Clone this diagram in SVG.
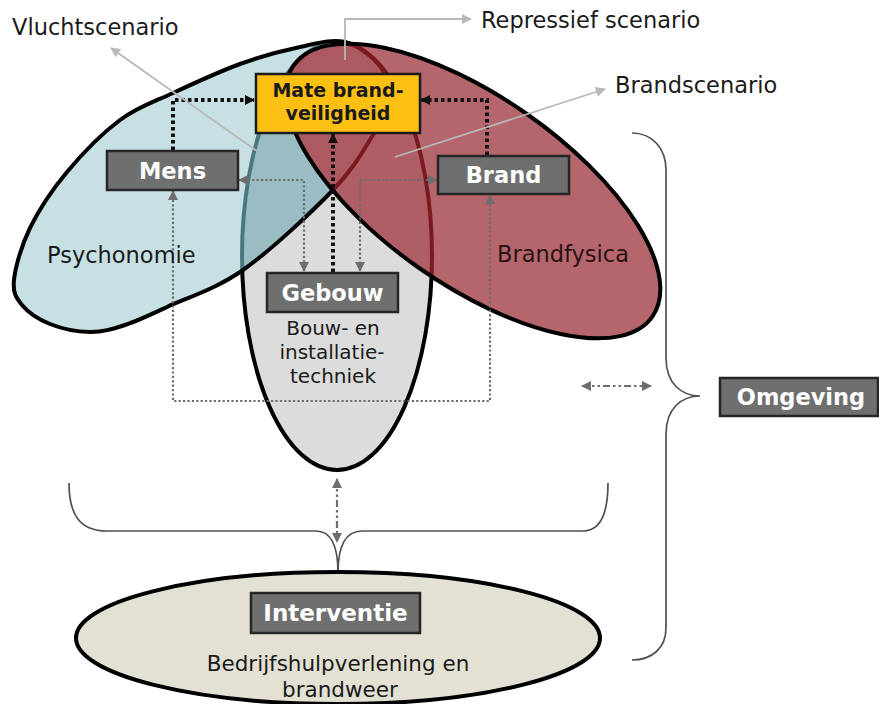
<svg xmlns="http://www.w3.org/2000/svg" xmlns:xlink="http://www.w3.org/1999/xlink" width="879" height="704" viewBox="0 0 879 704">
<style>
.txt{font-family:"DejaVu Sans","Verdana",sans-serif;fill:#1a1a1a}
.reg{font-size:22.5px}
.small{font-size:20px}
.bold{font-family:"DejaVu Sans","Verdana",sans-serif;font-weight:bold;font-size:22.5px;fill:#ffffff}
.box{fill:#6f6f6f;stroke:#262626;stroke-width:2.5}
.dotB{fill:none;stroke:#111;stroke-width:4;stroke-dasharray:3.5 3}
.dotG{fill:none;stroke:#6d6d6d;stroke-width:2.2;stroke-dasharray:2.2 2.2}
.dashdot{fill:none;stroke:#6d6d6d;stroke-width:2.2;stroke-dasharray:7 3 2.5 3 2.5 3}
.call{fill:none;stroke:#b8b8b8;stroke-width:1.8}
.brace{fill:none;stroke:#505050;stroke-width:1.7}
</style>
<defs>
<ellipse id="eGray" cx="337" cy="256" rx="95" ry="214"/>
<path id="eBlue" d="M14,280 C15.3,267.2 21.2,246 30,228 C38.8,210 52,190 67,172 C82,154 102.3,133.2 120,120 C137.7,106.8 153,102.3 173,93 C193,83.7 218.8,71.7 240,64 C261.2,56.3 282.5,50.7 300,47 C317.5,43.3 331.7,38.8 345,42 C358.3,45.2 372.5,56.3 380,66 C387.5,75.7 391.2,88.5 390,100 C388.8,111.5 382.5,120 373,135 C363.5,150 354.7,167.5 333,190 C311.3,212.5 270.7,250.5 243,270 C215.3,289.5 186.7,297.8 167,307 C147.3,316.2 137.8,320.8 125,325 C112.2,329.2 102.5,332.2 90,332 C77.5,331.8 61.3,328.5 50,324 C38.7,319.5 28,312.3 22,305 C16,297.7 12.7,292.8 14,280 Z"/>
<ellipse id="eRed" cx="0" cy="0" rx="219" ry="94" transform="translate(473 191) rotate(35)"/>
<clipPath id="cBlue"><use xlink:href="#eBlue"/></clipPath>
<clipPath id="cRed"><use xlink:href="#eRed"/></clipPath>
<marker id="aB" viewBox="0 0 10 10" refX="9" refY="5" markerWidth="10" markerHeight="10" markerUnits="userSpaceOnUse" orient="auto-start-reverse"><path d="M0,0 L10,5 L0,10 z" fill="#111"/></marker>
<marker id="aG" viewBox="0 0 10 10" refX="9" refY="5" markerWidth="10" markerHeight="10" markerUnits="userSpaceOnUse" orient="auto-start-reverse"><path d="M0,0 L10,5 L0,10 z" fill="#6d6d6d"/></marker>
<marker id="aL" viewBox="0 0 10 10" refX="9" refY="5" markerWidth="12" markerHeight="10" markerUnits="userSpaceOnUse" orient="auto"><path d="M0,0 L10,5 L0,10 z" fill="#b8b8b8"/></marker>
</defs>
<rect width="879" height="704" fill="#ffffff"/>

<g id="ellipses">
<use xlink:href="#eGray" fill="#dcdcdc" stroke="#000" stroke-width="4"/>
<use xlink:href="#eBlue" fill="#c7e0e4"/>
<g clip-path="url(#cBlue)">
<use xlink:href="#eGray" fill="#9abdc3" stroke="#4a7880" stroke-width="4"/>
</g>
<use xlink:href="#eBlue" fill="none" stroke="#000" stroke-width="4"/>
<use xlink:href="#eRed" fill="#b5656c"/>
<g clip-path="url(#cRed)">
<use xlink:href="#eGray" fill="#af5e66"/>
<use xlink:href="#eBlue" fill="#ac5961"/>
<use xlink:href="#eGray" fill="none" stroke="#7a1a1f" stroke-width="4"/>
<use xlink:href="#eBlue" fill="none" stroke="#7a1a1f" stroke-width="4"/>
</g>
<use xlink:href="#eRed" fill="none" stroke="#000" stroke-width="4"/>
</g>

<g id="braces">
<path class="brace" d="M632,133 C652,133 666,148 666,170 V358 C666,384 682,396 700,396 C682,396 666,408 666,434 V628 C666,648 652,660 632,660"/>
<path class="brace" d="M69,483 C69,515 80,531 107,531 H316 C330,531 338,545 338,573 C338,545 346,531 362,531 H583 C600,531 608,515 608,483"/>
</g>

<g id="interventie-ellipse">
<ellipse cx="338" cy="638" rx="262" ry="66" fill="#e2e1d3" stroke="#000" stroke-width="4"/>
</g>

<g id="connectors">
<path class="dotB" d="M173,150 V100 H254" marker-end="url(#aB)"/>
<path class="dotB" d="M487,155 V100 H421" marker-end="url(#aB)"/>
<path class="dotB" d="M333,272 V134" marker-end="url(#aB)"/>
<path class="dotG" d="M239,180 H304 V271" marker-start="url(#aG)" marker-end="url(#aG)"/>
<path class="dotG" d="M437,180 H360 V271" marker-start="url(#aG)" marker-end="url(#aG)"/>
<path class="dotG" d="M173,191 V401 H490 V195" marker-start="url(#aG)" marker-end="url(#aG)"/>
<path class="dashdot" d="M582,386 H651" marker-start="url(#aG)" marker-end="url(#aG)"/>
<path class="dashdot" d="M337,479 V542" marker-start="url(#aG)" marker-end="url(#aG)"/>
<path class="call" d="M257,151 L111,48" marker-end="url(#aL)"/>
<path class="call" d="M345,60 V19 H471" marker-end="url(#aL)"/>
<path class="call" d="M395,157 L605,89" marker-end="url(#aL)"/>
</g>

<g id="mate">
<rect x="256" y="74" width="164" height="59" fill="#fcc012" stroke="#1a1a1a" stroke-width="2.5"/>
<text x="338" y="97" text-anchor="middle" style="font-family:'DejaVu Sans',Verdana,sans-serif;font-weight:bold;font-size:19px;fill:#1a1a1a">Mate brand-</text>
<text x="338" y="120" text-anchor="middle" style="font-family:'DejaVu Sans',Verdana,sans-serif;font-weight:bold;font-size:19px;fill:#1a1a1a">veiligheid</text>
</g>
<g id="mens">
<rect class="box" x="107" y="151" width="131" height="39"/>
<text class="bold" x="172.5" y="178.5" text-anchor="middle">Mens</text>
</g>
<g id="brand">
<rect class="box" x="438" y="156" width="131" height="38"/>
<text class="bold" x="503.5" y="183" text-anchor="middle">Brand</text>
</g>
<g id="gebouw">
<rect class="box" x="267" y="273" width="131" height="39"/>
<text class="bold" x="332.5" y="300.5" text-anchor="middle">Gebouw</text>
</g>
<g id="omgeving">
<rect class="box" x="720" y="378" width="158" height="38"/>
<text class="bold" x="801" y="405" text-anchor="middle">Omgeving</text>
</g>
<g id="interventie">
<rect class="box" x="251" y="593" width="169" height="40"/>
<text class="bold" x="335.5" y="621" text-anchor="middle" style="font-size:23px">Interventie</text>
</g>

<g id="labels">
<text class="txt reg" x="12" y="35">Vluchtscenario</text>
<text class="txt reg" x="481" y="28">Repressief scenario</text>
<text class="txt reg" x="615" y="93">Brandscenario</text>
<text class="txt reg" x="47" y="263">Psychonomie</text>
<text class="txt reg" x="497" y="262" style="fill:#2a1212">Brandfysica</text>
<text class="txt small" x="333" y="335" text-anchor="middle">Bouw- en</text>
<text class="txt small" x="332" y="359" text-anchor="middle">installatie-</text>
<text class="txt small" x="333" y="383" text-anchor="middle">techniek</text>
<text class="txt" x="338" y="671" text-anchor="middle" style="font-size:21.5px">Bedrijfshulpverlening en</text>
<text class="txt" x="340" y="697" text-anchor="middle" style="font-size:21.5px">brandweer</text>
</g>
</svg>
